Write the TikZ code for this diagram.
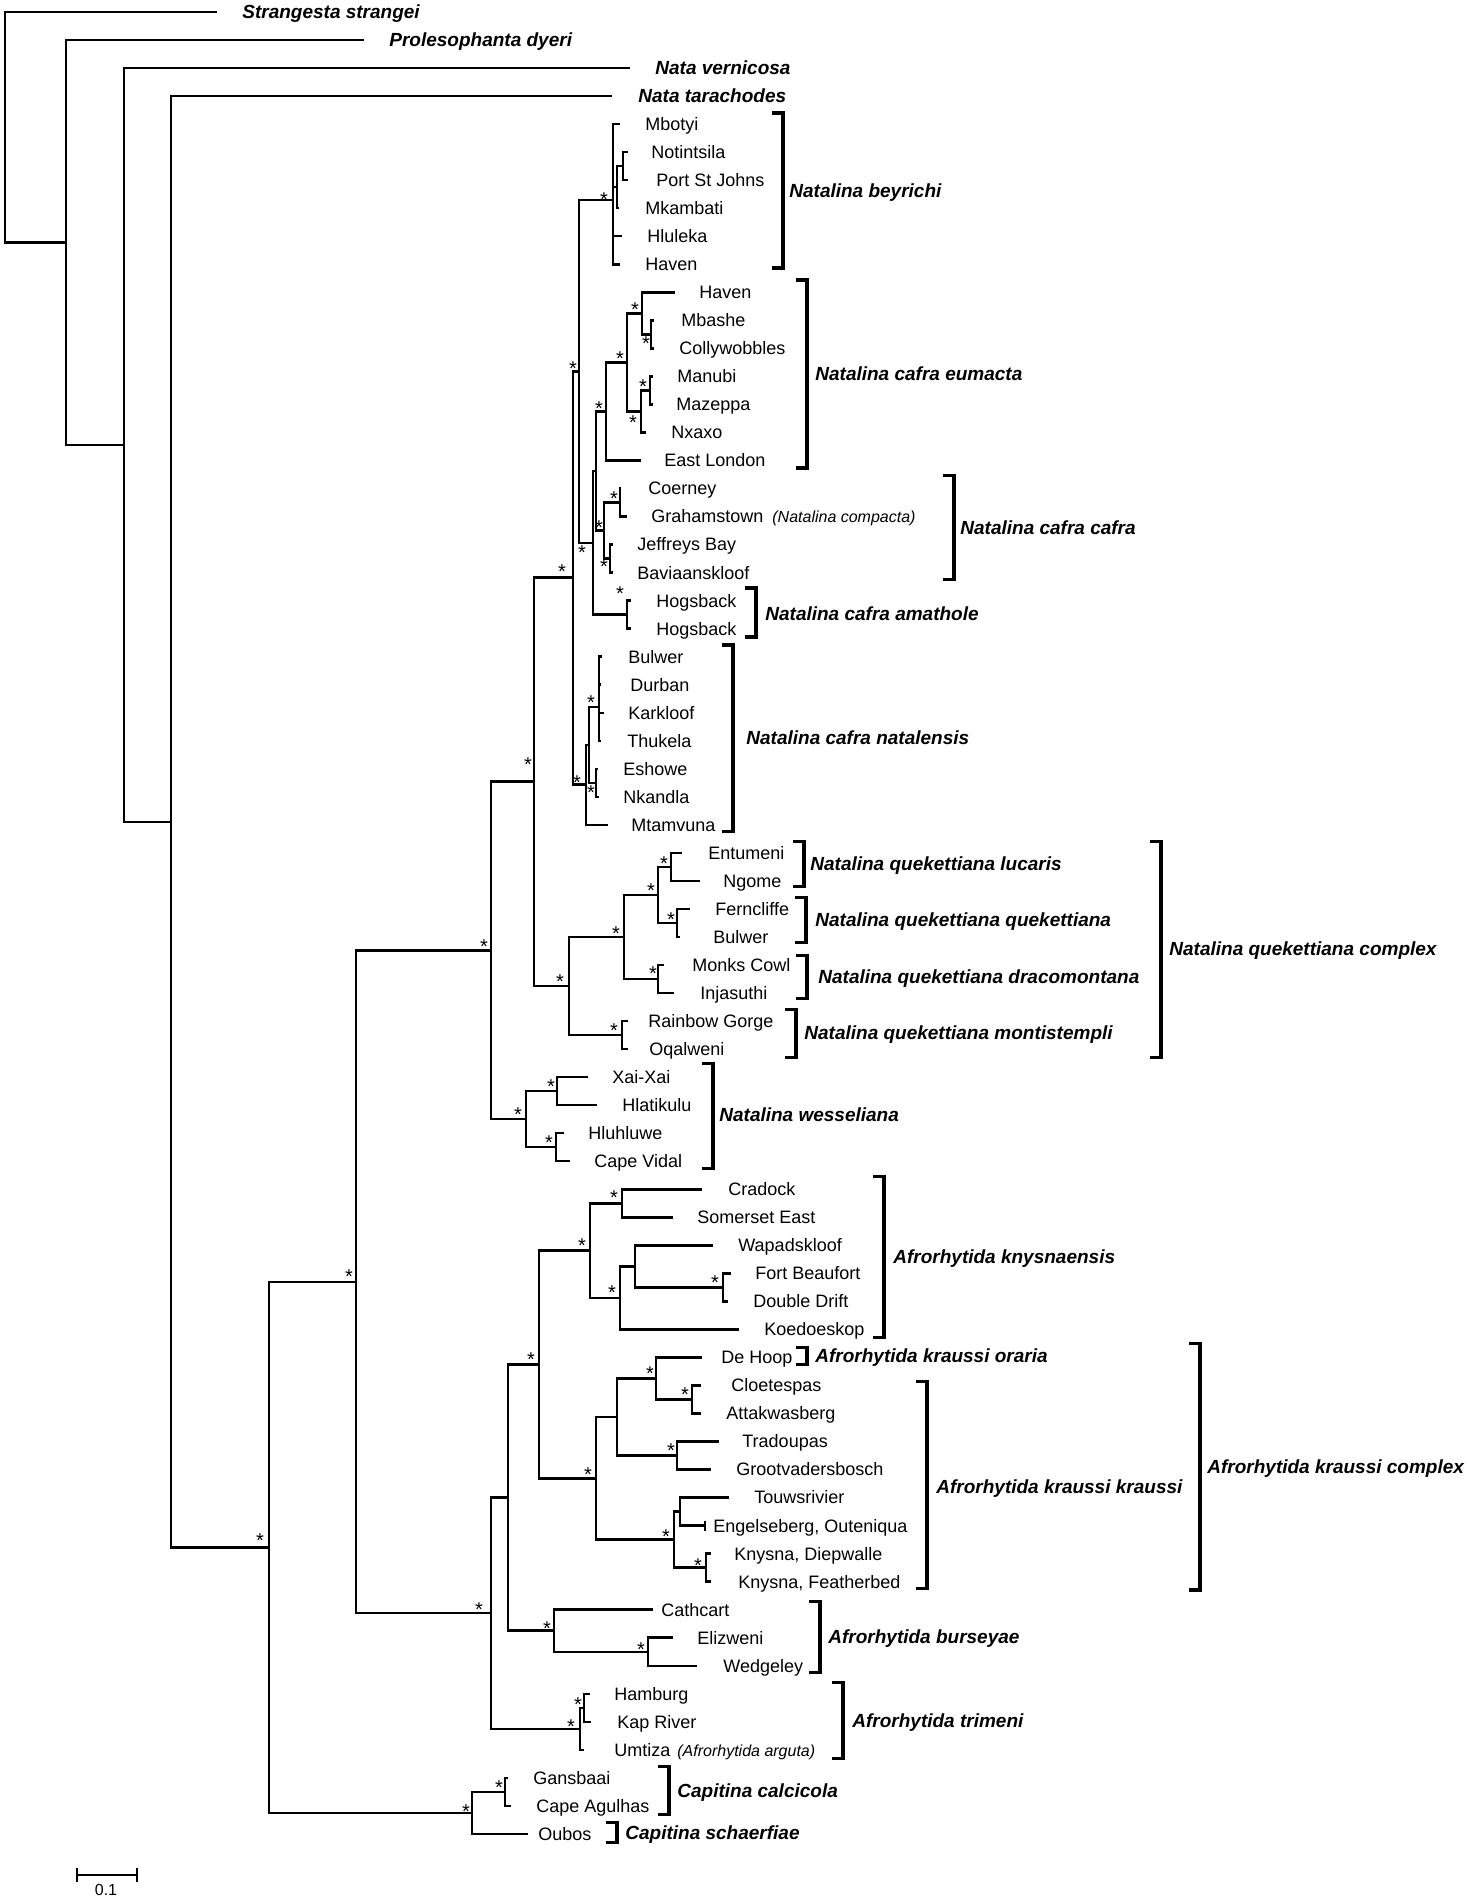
\documentclass[tikz,border=0pt]{standalone}
\usepackage{fontspec}
\setmainfont{Liberation Sans}
\newcommand\mytip[5]{\coordinate (#1) at (#2,#3); \node[lab] (#1t) at (#4,#3) {#5};}
\newcommand\mytop[5]{\coordinate (#1) at (#2,#3); \node[tax] (#1t) at (#4,#3) {#5};}
\newcommand\mybrk[7]{\coordinate (#1a) at (#2,#3); \coordinate (#1b) at (#2,#4);
  \draw[bk] ([xshift=-5.5pt]#1a) -- (#1a) -- (#1b) -- ([xshift=-5.5pt]#1b);
  \node[tax] (#1) at (#5,#6) {#7};}
\begin{document}
\begin{tikzpicture}[x=0.5pt,y=-14.015pt,
  br/.style={line width=1.25pt},
  bk/.style={line width=1.6pt},
  lab/.style={font=\fontsize{9}{10}\selectfont, anchor=base west, inner sep=0pt, yshift=-3.2pt},
  tax/.style={font=\fontsize{9.5}{11}\selectfont\bfseries\itshape, anchor=base west, inner sep=0pt, yshift=-3.4pt},
  sm/.style={font=\fontsize{8}{9}\selectfont\itshape, anchor=base west, inner sep=0pt, yshift=-3.2pt},
  st/.style={font=\fontsize{10}{10}\selectfont, anchor=base, inner sep=0pt, yshift=-5.8pt}]
\useasboundingbox (0,-0.4281) rectangle (1468,67.3213);

% ---------- internal nodes ----------
\coordinate (root) at (5,4.11);
\coordinate (A) at (66,8.22);
\coordinate (B) at (124,15.45);
\coordinate (C) at (171,28.89);
\coordinate (D) at (269,54.78);
\coordinate (E) at (356,45.30);
\coordinate (F) at (491,33.48);
\coordinate (M) at (534,27.46);
\coordinate (N0) at (573,20.17);
\coordinate (N1) at (579,12.82);
\coordinate (bey) at (613,6.7);
\coordinate (s1) at (617,6.25);
\coordinate (NP) at (623,5.5);
\coordinate (N2) at (593,18.94);
\coordinate (N3) at (596,16.375);
\coordinate (Eu) at (606,14.25);
\coordinate (E12) at (627,12.5);
\coordinate (E1) at (642,10.75);
\coordinate (MC) at (651,11.5);
\coordinate (E2) at (641,14.25);
\coordinate (MM) at (650,13.5);
\coordinate (CC) at (604,18.5);
\coordinate (CG) at (620,17.5);
\coordinate (JB) at (610,19.5);
\coordinate (Am) at (627,21.5);
\coordinate (NA) at (586,27.56);
\coordinate (X) at (589,26.15);
\coordinate (Y) at (599,24.8);
\coordinate (Z) at (596,27.5);
\coordinate (Q) at (569,34.75);
\coordinate (Q1) at (624,33.0);
\coordinate (Q2) at (658,31.5);
\coordinate (Lu) at (671,30.5);
\coordinate (Qu) at (677,32.5);
\coordinate (Dr) at (658,34.5);
\coordinate (Mo) at (622,36.5);
\coordinate (W) at (526,39.5);
\coordinate (WA) at (557,38.5);
\coordinate (WB) at (556,40.5);
\coordinate (AF) at (491,57.125);
\coordinate (A1) at (508,53.0);
\coordinate (AK) at (539,48.25);
\coordinate (K) at (590,44.19);
\coordinate (K1) at (622,42.5);
\coordinate (K2) at (620,45.875);
\coordinate (K3) at (635,44.75);
\coordinate (FD) at (723,45.5);
\coordinate (KC) at (596,52.31);
\coordinate (KR1) at (617,50.125);
\coordinate (DHN) at (656,48.75);
\coordinate (CA) at (692,49.5);
\coordinate (TG) at (677,51.5);
\coordinate (KR2) at (674,54.5);
\coordinate (TE) at (680,53.5);
\coordinate (KK) at (706,55.5);
\coordinate (Bu) at (554,57.75);
\coordinate (EW) at (648,58.5);
\coordinate (T) at (580,61.25);
\coordinate (HK) at (584,60.5);
\coordinate (Cap) at (472,64.25);
\coordinate (CC2) at (505,63.5);

% ---------- tips ----------
\mytop{t0}{217}{0}{242}{Strangesta strangei}
\mytop{t1}{364}{1}{389}{Prolesophanta dyeri}
\mytop{t2}{630}{2}{655}{Nata vernicosa}
\mytop{t3}{612}{3}{638}{Nata tarachodes}
\mytip{t4}{620}{4}{645}{Mbotyi}
\mytip{t5}{628}{5}{651}{Notintsila}
\mytip{t6}{628}{6}{656}{Port St Johns}
\mytip{t7}{619}{7}{645}{Mkambati}
\mytip{t8}{622}{8}{647}{Hluleka}
\mytip{t9}{620}{9}{645}{Haven}
\mytip{t10}{675}{10}{699}{Haven}
\mytip{t11}{654}{11}{681}{Mbashe}
\mytip{t12}{654}{12}{679}{Collywobbles}
\mytip{t13}{653}{13}{677}{Manubi}
\mytip{t14}{653}{14}{676}{Mazeppa}
\mytip{t15}{646}{15}{671}{Nxaxo}
\mytip{t16}{641}{16}{664}{East London}
\mytip{t17}{621}{17}{648}{Coerney}
\mytip{t18}{627}{18}{651}{Grahamstown}
\node[sm] (t18s) at (772,18) {(Natalina compacta)};
\mytip{t19}{613}{19}{637}{Jeffreys Bay}
\mytip{t20}{613}{20}{637}{Baviaanskloof}
\mytip{t21}{631}{21}{656}{Hogsback}
\mytip{t22}{631}{22}{656}{Hogsback}
\mytip{t23}{602}{23}{628}{Bulwer}
\mytip{t24}{601}{24}{630}{Durban}
\mytip{t25}{604}{25}{628}{Karkloof}
\mytip{t26}{601}{26}{627}{Thukela}
\mytip{t27}{598}{27}{623}{Eshowe}
\mytip{t28}{599}{28}{623}{Nkandla}
\mytip{t29}{608}{29}{631}{Mtamvuna}
\mytip{t30}{682}{30}{708}{Entumeni}
\mytip{t31}{700}{31}{723}{Ngome}
\mytip{t32}{690}{32}{715}{Ferncliffe}
\mytip{t33}{680}{33}{713}{Bulwer}
\mytip{t34}{664}{34}{692}{Monks Cowl}
\mytip{t35}{674}{35}{700}{Injasuthi}
\mytip{t36}{628}{36}{648}{Rainbow Gorge}
\mytip{t37}{628}{37}{649}{Oqalweni}
\mytip{t38}{588}{38}{612}{Xai-Xai}
\mytip{t39}{597}{39}{622}{Hlatikulu}
\mytip{t40}{564}{40}{588}{Hluhluwe}
\mytip{t41}{570}{41}{594}{Cape Vidal}
\mytip{t42}{702}{42}{728}{Cradock}
\mytip{t43}{673}{43}{697}{Somerset East}
\mytip{t44}{713}{44}{738}{Wapadskloof}
\mytip{t45}{731}{45}{755}{Fort Beaufort}
\mytip{t46}{728}{46}{753}{Double Drift}
\mytip{t47}{739}{47}{764}{Koedoeskop}
\mytip{t48}{702}{48}{721}{De Hoop}
\mytip{t49}{701}{49}{731}{Cloetespas}
\mytip{t50}{701}{50}{726}{Attakwasberg}
\mytip{t51}{719}{51}{742}{Tradoupas}
\mytip{t52}{711}{52}{736}{Grootvadersbosch}
\mytip{t53}{729}{53}{754}{Touwsrivier}
\mytip{t54}{705}{54}{713}{Engelseberg, Outeniqua}
\mytip{t55}{711}{55}{734}{Knysna, Diepwalle}
\mytip{t56}{711}{56}{738}{Knysna, Featherbed}
\mytip{t57}{653}{57}{661}{Cathcart}
\mytip{t58}{673}{58}{697}{Elizweni}
\mytip{t59}{697}{59}{723}{Wedgeley}
\mytip{t60}{590}{60}{614}{Hamburg}
\mytip{t61}{591}{61}{617}{Kap River}
\mytip{t62}{584}{62}{614}{Umtiza}
\node[sm] (t62s) at (677,62) {(Afrorhytida arguta)};
\mytip{t63}{508}{63}{533}{Gansbaai}
\mytip{t64}{511}{64}{536}{Cape Agulhas}
\mytip{t65}{528}{65}{538}{Oubos}

% ---------- branches ----------
\foreach \p/\c in {root/t0,root/A,A/t1,A/B,B/t2,B/C,C/t3,C/D,D/E,D/Cap,E/F,E/AF,
  F/M,F/W,M/N0,M/Q,N0/N1,N0/NA,N1/bey,N1/N2,
  bey/t4,bey/s1,bey/t8,bey/t9,s1/NP,s1/t7,NP/t5,NP/t6,
  N2/N3,N2/Am,N3/Eu,N3/CC,Eu/E12,Eu/t16,E12/E1,E12/E2,E1/t10,E1/MC,MC/t11,MC/t12,
  E2/MM,E2/t15,MM/t13,MM/t14,CC/CG,CC/JB,CG/t17,CG/t18,JB/t19,JB/t20,Am/t21,Am/t22,
  NA/X,NA/t29,X/Y,X/Z,Y/t23,Y/t24,Y/t25,Y/t26,Z/t27,Z/t28,
  Q/Q1,Q/Mo,Q1/Q2,Q1/Dr,Q2/Lu,Q2/Qu,Lu/t30,Lu/t31,Qu/t32,Qu/t33,Dr/t34,Dr/t35,Mo/t36,Mo/t37,
  W/WA,W/WB,WA/t38,WA/t39,WB/t40,WB/t41,
  AF/A1,AF/T,A1/AK,A1/Bu,AK/K,AK/KC,K/K1,K/K2,K1/t42,K1/t43,K2/K3,K2/t47,K3/t44,K3/FD,
  FD/t45,FD/t46,KC/KR1,KC/KR2,KR1/DHN,KR1/TG,DHN/t48,DHN/CA,CA/t49,CA/t50,TG/t51,TG/t52,
  KR2/TE,KR2/KK,TE/t53,TE/t54,KK/t55,KK/t56,Bu/t57,Bu/EW,EW/t58,EW/t59,
  T/HK,T/t62,HK/t60,HK/t61,Cap/CC2,Cap/t65,CC2/t63,CC2/t64}
  \draw[br] (\p) |- (\c);
\draw[line width=0.9pt] ([yshift=2.5pt]t54) -- ([yshift=-2.5pt]t54);

% ---------- support asterisks ----------
\foreach \x/\y [count=\i] in {604/195,573/364,635/305,646/339,620/354,643/382,599/404,633/418,
  614/494,599/523,582/548,604/562,620/589,562/567,591/698,577/778,591/788,528/760,
  664/859,651/886,671/915,616/929,484/942,653/969,560/977,614/1026,
  551/1082,518/1110,549/1138,614/1193,582/1241,715/1278,612/1288,349/1272,
  531/1355,650/1369,685/1390,671/1446,588/1470,666/1532,260/1536,698/1561,
  479/1605,547/1624,641/1645,578/1700,571/1722,499/1783,466/1807}
  \node[st] (star\i) at (\x,{(\y-12)/28.03}) {*};

% ---------- clade brackets ----------
\mybrk{b1}{783}{3.60}{9.13}{789}{6.37}{Natalina beyrichi}
\mybrk{b2}{807}{9.56}{16.27}{815}{12.9}{Natalina cafra eumacta}
\mybrk{b3}{954}{16.55}{20.26}{960}{18.4}{Natalina cafra cafra}
\mybrk{b4}{756}{20.55}{22.3}{765}{21.45}{Natalina cafra amathole}
\mybrk{b5}{733}{22.58}{29.25}{746}{25.9}{Natalina cafra natalensis}
\mybrk{b6}{804}{29.6}{31.2}{810}{30.4}{Natalina quekettiana lucaris}
\mybrk{b7}{806}{31.6}{33.2}{815}{32.4}{Natalina quekettiana quekettiana}
\mybrk{b8}{807}{33.65}{35.2}{818}{34.4}{Natalina quekettiana dracomontana}
\mybrk{b9}{796}{35.6}{37.3}{804}{36.4}{Natalina quekettiana montistempli}
\mybrk{b10}{1161}{29.6}{37.3}{1169}{33.4}{Natalina quekettiana complex}
\mybrk{b11}{713}{37.5}{41.25}{719}{39.35}{Natalina wesseliana}
\mybrk{b12}{884}{41.55}{47.3}{893}{44.4}{Afrorhytida knysnaensis}
\mybrk{b13}{807}{47.65}{48.25}{815}{47.95}{Afrorhytida kraussi oraria}
\mybrk{b14}{927}{48.85}{56.25}{936}{52.6}{Afrorhytida kraussi kraussi}
\mybrk{b15}{1200}{47.5}{56.3}{1207}{51.9}{Afrorhytida kraussi complex}
\mybrk{b16}{820}{56.7}{59.25}{828}{57.95}{Afrorhytida burseyae}
\mybrk{b17}{843}{59.6}{62.3}{852}{60.95}{Afrorhytida trimeni}
\mybrk{b18}{669}{62.6}{64.3}{677}{63.45}{Capitina calcicola}
\mybrk{b19}{617}{64.6}{65.3}{625}{64.95}{Capitina schaerfiae}

% ---------- scale bar ----------
\coordinate (sbl) at (77,66.46);
\coordinate (sbr) at (137,66.46);
\draw[line width=0.85pt] (sbl) -- (sbr);
\draw[line width=0.85pt] ([yshift=3.5pt]sbl) -- ([yshift=-3.5pt]sbl);
\draw[line width=0.85pt] ([yshift=3.5pt]sbr) -- ([yshift=-3.5pt]sbr);
\node[font=\fontsize{8}{9}\selectfont, inner sep=0pt] (sbt) at (106,66.99) {0.1};
\end{tikzpicture}
\end{document}
